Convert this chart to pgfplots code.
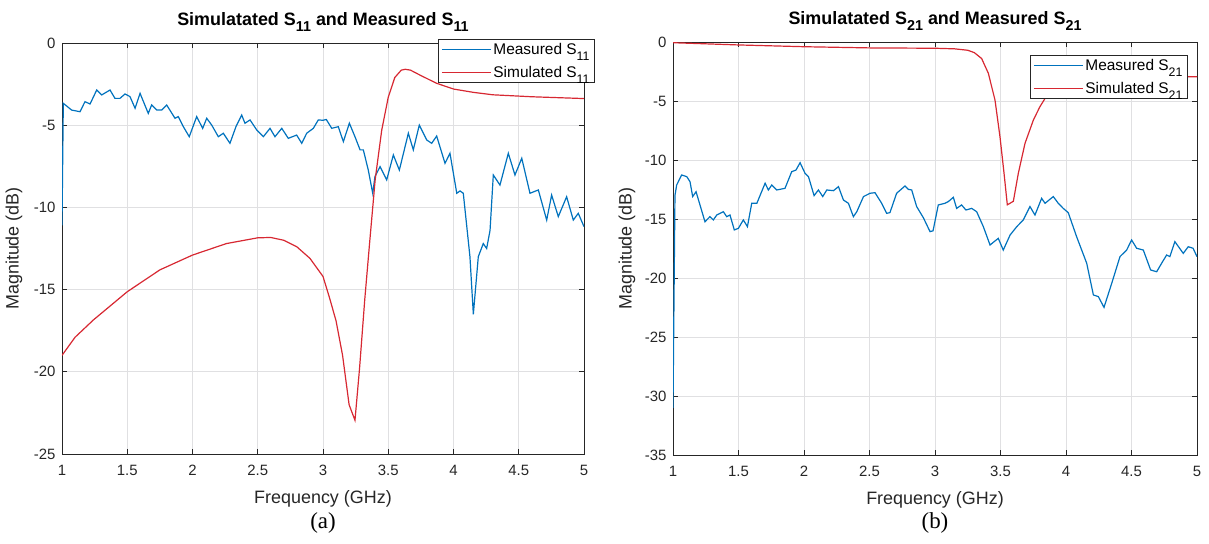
\documentclass[border=0pt]{standalone}
\usepackage{graphicx}
\usepackage{fontspec}
\setmainfont{Liberation Sans}
\newfontfamily\capfont{Liberation Serif}
\usepackage{pgfplots}
\pgfplotsset{compat=1.18}
\definecolor{mblue}{RGB}{0,114,189}
\definecolor{mred}{RGB}{215,40,50}
\definecolor{axgray}{RGB}{38,38,38}
\definecolor{gridgray}{RGB}{224,224,226}
\newcommand{\sub}[1]{\raisebox{-0.38em}{\scalebox{0.8}{#1}}}
\pgfplotsset{mstyle/.style={
  scale only axis, xmin=1, xmax=5, xtick={1,1.5,...,5},
  grid=major, major grid style={gridgray, line width=0.7bp},
  tick align=inside, major tick length=5bp,
  axis line style={axgray, line width=0.8bp},
  tick style={axgray, line width=0.8bp},
  every tick label/.append style={font=\fontsize{15}{18}\selectfont, text=axgray},
  xticklabel style={yshift=-8bp},
  yticklabel style={xshift=-3bp},
  /pgf/number format/assume math mode=true,
  label style={font=\fontsize{18}{21}\selectfont, text=axgray},
  xlabel style={at={(axis description cs:0.5,-0.108)}, anchor=center},
  title style={font=\bfseries\fontsize{18}{21}\selectfont, at={(axis description cs:0.5,1)}, anchor=base, yshift=12bp},
  xlabel={Frequency (GHz)}, ylabel={Magnitude (dB)},
  legend style={font=\fontsize{15.5}{18}\selectfont, draw=axgray, line width=0.8bp,
     fill=white, inner xsep=3bp, inner ysep=2bp, row sep=6bp},
  legend cell align=left,
  legend image code/.code={\draw[#1] (0bp,0bp) -- (49bp,0bp);},
}}
\begin{document}
\begin{tikzpicture}
\path[use as bounding box] (-62bp,-90bp) rectangle (1147bp,454bp);
\begin{axis}[mstyle, at={(0bp,0bp)}, anchor=south west, width=522bp, height=411bp,
  ymin=-25, ymax=0, ytick={-25,-20,...,0},
  ylabel style={at={(axis description cs:-0.092,0.5)}, anchor=center},
  title={Simulatated S\sub{11} and Measured S\sub{11}},
  legend style={at={(0.72,1.0097)}, anchor=north west}]
\addplot[mblue, line width=1.2bp] coordinates {
(1.0,-11.1)(1.01,-3.67)(1.074,-4.08)(1.138,-4.18)(1.176,-3.57)(1.215,-3.71)(1.266,-2.86)(1.304,-3.16)
(1.368,-2.86)(1.406,-3.37)(1.444,-3.37)(1.483,-3.1)(1.521,-3.26)(1.56,-3.97)(1.598,-3.06)(1.661,-4.28)
(1.687,-3.77)(1.726,-4.08)(1.764,-4.08)(1.802,-3.77)(1.866,-4.58)(1.891,-4.48)(1.93,-5.09)(1.975,-5.7)
(2.032,-4.48)(2.078,-5.19)(2.109,-4.58)(2.147,-4.99)(2.198,-5.7)(2.236,-5.49)(2.287,-6.1)(2.333,-5.09)
(2.377,-4.38)(2.402,-4.88)(2.441,-4.68)(2.492,-5.29)(2.543,-5.7)(2.594,-5.19)(2.632,-5.7)(2.684,-5.19)
(2.734,-5.8)(2.798,-5.6)(2.837,-6.1)(2.875,-5.49)(2.926,-5.19)(2.964,-4.68)(3.0,-4.7)(3.025,-4.65)
(3.067,-5.19)(3.117,-5.09)(3.156,-6.0)(3.202,-4.88)(3.245,-5.7)(3.284,-6.5)(3.309,-6.5)(3.347,-7.73)
(3.381,-9.14)(3.398,-8.13)(3.437,-7.52)(3.488,-8.33)(3.539,-6.81)(3.585,-7.73)(3.654,-5.49)(3.692,-6.5)
(3.738,-4.99)(3.795,-5.9)(3.833,-6.1)(3.871,-5.66)(3.935,-7.32)(3.973,-6.71)(4.025,-9.14)(4.05,-9.0)
(4.075,-9.14)(4.126,-13.0)(4.152,-16.5)(4.19,-13.0)(4.228,-12.2)(4.254,-12.5)(4.28,-11.4)(4.305,-8.03)
(4.356,-8.64)(4.42,-6.71)(4.471,-8.03)(4.523,-7.01)(4.586,-9.14)(4.65,-8.94)(4.714,-10.77)(4.752,-9.25)
(4.803,-10.56)(4.867,-9.35)(4.918,-10.77)(4.956,-10.36)(5.0,-11.17)};
\addlegendentry{Measured S\sub{11}}
\addplot[mred, line width=1.2bp] coordinates {
(1.0,-19.0)(1.1,-17.9)(1.24,-16.85)(1.5,-15.13)(1.75,-13.8)(2.0,-12.9)(2.26,-12.2)(2.5,-11.85)
(2.6,-11.83)(2.7,-12.0)(2.8,-12.4)(2.9,-13.1)(3.0,-14.2)(3.05,-15.5)(3.1,-16.9)(3.15,-19.0)
(3.2,-22.0)(3.245,-22.95)(3.28,-19.8)(3.32,-15.6)(3.36,-11.9)(3.4,-8.3)(3.45,-5.3)(3.5,-3.3)
(3.55,-2.1)(3.6,-1.65)(3.63,-1.6)(3.67,-1.65)(3.75,-1.98)(3.87,-2.45)(4.0,-2.8)(4.15,-3.0)
(4.3,-3.15)(4.6,-3.27)(5.0,-3.38)};
\addlegendentry{Simulated S\sub{11}}
\end{axis}
\begin{axis}[mstyle, at={(611bp,-1bp)}, anchor=south west, width=524bp, height=413bp,
  ymin=-35, ymax=0, ytick={-35,-30,...,0},
  ylabel style={at={(axis description cs:-0.088,0.5)}, anchor=center},
  title={Simulatated S\sub{21} and Measured S\sub{21}},
  legend style={at={(0.681,0.9685)}, anchor=north west}]
\addplot[mblue, line width=1.2bp] coordinates {
(1.0,-31.0)(1.015,-13.0)(1.028,-12.12)(1.066,-11.27)(1.105,-11.41)(1.13,-11.84)(1.15,-13.1)(1.176,-12.69)
(1.244,-15.23)(1.282,-14.8)(1.308,-15.08)(1.334,-14.66)(1.384,-14.38)(1.41,-14.8)(1.435,-14.66)(1.468,-15.93)
(1.499,-15.79)(1.537,-15.08)(1.568,-15.65)(1.601,-13.67)(1.64,-13.67)(1.703,-11.97)(1.728,-12.54)(1.754,-12.12)
(1.792,-12.54)(1.855,-12.4)(1.906,-10.99)(1.939,-10.85)(1.97,-10.23)(2.008,-11.13)(2.034,-11.41)(2.077,-13.02)
(2.11,-12.54)(2.143,-13.1)(2.174,-12.54)(2.225,-12.6)(2.263,-12.26)(2.301,-13.39)(2.339,-13.67)(2.377,-14.8)
(2.403,-14.38)(2.454,-13.1)(2.504,-12.82)(2.542,-12.77)(2.593,-13.67)(2.631,-14.52)(2.656,-14.46)(2.707,-12.82)
(2.771,-12.2)(2.796,-12.49)(2.822,-12.54)(2.86,-13.95)(2.911,-14.89)(2.962,-16.07)(2.985,-16.0)(3.025,-13.81)
(3.076,-13.67)(3.101,-13.53)(3.14,-13.16)(3.165,-14.1)(3.203,-13.81)(3.236,-14.24)(3.28,-14.1)(3.318,-14.38)
(3.369,-15.65)(3.42,-17.2)(3.483,-16.64)(3.521,-17.63)(3.573,-16.36)(3.624,-15.65)(3.674,-15.08)(3.725,-13.95)
(3.763,-14.66)(3.814,-13.25)(3.84,-13.67)(3.903,-13.1)(3.941,-13.67)(3.979,-14.1)(4.017,-14.46)(4.081,-16.5)
(4.158,-18.75)(4.209,-21.44)(4.247,-21.58)(4.29,-22.49)(4.349,-20.45)(4.412,-18.19)(4.463,-17.63)(4.501,-16.78)
(4.539,-17.48)(4.59,-17.63)(4.646,-19.32)(4.692,-19.47)(4.73,-18.75)(4.768,-18.05)(4.793,-18.19)(4.831,-16.92)
(4.895,-17.91)(4.933,-17.35)(4.97,-17.48)(5.0,-18.19)};
\addlegendentry{Measured S\sub{21}}
\addplot[mred, line width=1.2bp] coordinates {
(1.0,-0.06)(1.5,-0.25)(2.0,-0.4)(2.5,-0.5)(3.0,-0.53)(3.15,-0.58)(3.25,-0.7)(3.3,-0.9)
(3.356,-1.4)(3.407,-2.65)(3.458,-4.92)(3.496,-8.03)(3.527,-11.13)(3.552,-13.8)(3.598,-13.5)(3.636,-11.13)
(3.687,-8.59)(3.751,-6.61)(3.8,-5.5)(3.85,-4.6)(3.9,-4.0)(3.95,-3.6)(4.0,-3.35)(4.1,-3.15)
(4.3,-3.0)(4.6,-2.95)(5.0,-2.94)};
\addlegendentry{Simulated S\sub{21}}
\end{axis}
\node[font=\capfont\fontsize{23}{26}\selectfont] at (261bp,-69bp) {(a)};
\node[font=\capfont\fontsize{23}{26}\selectfont] at (873bp,-69bp) {(b)};
\end{tikzpicture}
\end{document}
